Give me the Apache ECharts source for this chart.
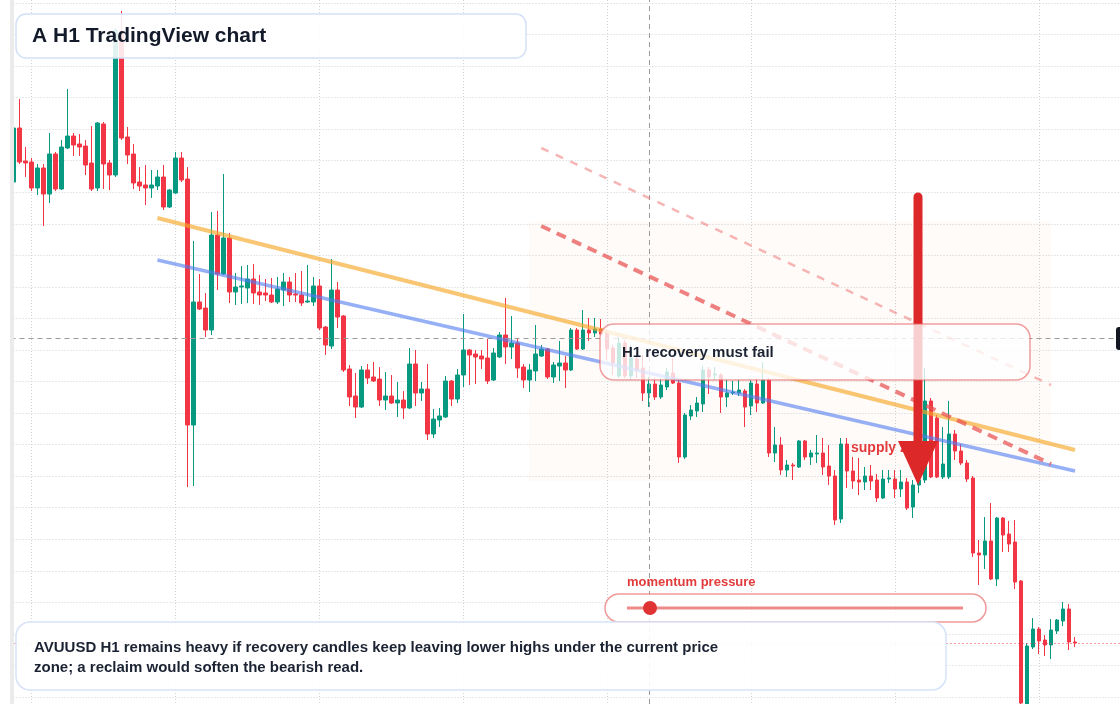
<!DOCTYPE html>
<html>
<head>
<meta charset="utf-8">
<title>AVUUSD H1</title>
<script src="https://cdn.jsdelivr.net/npm/echarts/dist/echarts.min.js"></script>
<style>
html, body { margin: 0; padding: 0; background: #ffffff; }
#container { width: 1120px; height: 704px; }
</style>
</head>
<body>
<div id="container"></div>
<script>
// hourly candles, price levels
var opens = [28.18, 28.72, 28.39, 28.38, 28.12, 28.32, 28.06, 28.46, 28.11, 28.52,
    28.64, 28.56, 28.54, 28.37, 28.12, 28.76, 28.37, 28.25, 29.69, 28.63,
    28.46, 28.18, 28.15, 28.12, 28.14, 28.23, 27.93, 28.07, 28.42, 28.21,
    25.75, 26.98, 26.92, 26.70, 27.65, 27.26, 27.62, 27.08, 27.13, 27.12,
    27.21, 27.08, 27.07, 27.05, 26.98, 27.10, 27.18, 27.06, 27.05, 26.98,
    26.98, 27.14, 26.73, 26.54, 27.10, 26.84, 26.31, 26.04, 25.93, 26.30,
    26.23, 26.21, 26.00, 26.04, 25.97, 26.00, 25.92, 26.36, 26.07, 26.11,
    25.66, 25.80, 25.83, 26.19, 26.01, 26.25, 26.50, 26.46, 26.44, 26.42,
    26.20, 26.43, 26.65, 26.53, 26.57, 26.33, 26.20, 26.29, 26.44, 26.51,
    26.23, 26.34, 26.37, 26.30, 26.70, 26.51, 26.70, 26.67, 26.71, 26.67,
    26.52, 26.24, 26.57, 26.24, 26.41, 26.32, 26.07, 26.16, 26.03, 26.13,
    26.27, 26.17, 25.43, 25.84, 25.89, 25.96, 26.30, 26.25, 26.25, 26.03,
    26.07, 26.07, 26.09, 25.94, 26.16, 25.97, 26.20, 25.47, 25.55, 25.30,
    25.35, 25.33, 25.59, 25.43, 25.46, 25.47, 25.34, 25.24, 24.81, 25.56,
    25.29, 25.20, 25.18, 25.24, 25.20, 25.02, 25.21, 25.21, 25.11, 25.18,
    24.93, 25.15, 25.20, 25.99, 25.82, 25.23, 25.23, 25.66, 25.49, 25.37,
    25.22, 24.47, 24.45, 24.59, 24.21, 24.82, 24.66, 24.58, 24.19, 22.88,
    23.53, 23.71, 23.60, 23.55, 23.69, 23.79, 23.91, 23.58];

var closes = [28.72, 28.38, 28.37, 28.12, 28.32, 28.06, 28.46, 28.11, 28.53, 28.64,
    28.55, 28.53, 28.35, 28.11, 28.77, 28.36, 28.25, 29.70, 28.62, 28.45,
    28.17, 28.14, 28.12, 28.15, 28.23, 27.93, 28.10, 28.42, 28.20, 25.75,
    26.98, 26.91, 26.70, 27.65, 27.26, 27.62, 27.08, 27.13, 27.14, 27.21,
    27.07, 27.05, 27.05, 26.98, 27.11, 27.18, 27.05, 27.05, 26.97, 26.99,
    27.14, 26.72, 26.55, 27.10, 26.83, 26.30, 26.03, 25.93, 26.30, 26.22,
    26.19, 26.00, 26.04, 25.97, 26.00, 25.92, 26.36, 26.07, 26.11, 25.66,
    25.81, 25.84, 26.19, 26.01, 26.25, 26.50, 26.45, 26.43, 26.41, 26.19,
    26.47, 26.65, 26.53, 26.57, 26.32, 26.20, 26.30, 26.46, 26.51, 26.23,
    26.35, 26.37, 26.30, 26.70, 26.51, 26.70, 26.67, 26.71, 26.66, 26.51,
    26.37, 26.57, 26.24, 26.42, 26.30, 26.07, 26.16, 26.03, 26.15, 26.28,
    26.17, 25.43, 25.85, 25.90, 25.97, 26.30, 26.23, 26.26, 26.03, 26.07,
    26.08, 26.10, 25.93, 26.17, 25.97, 26.20, 25.47, 25.55, 25.30, 25.35,
    25.34, 25.59, 25.43, 25.47, 25.47, 25.33, 25.24, 24.80, 25.56, 25.29,
    25.19, 25.18, 25.24, 25.19, 25.02, 25.21, 25.22, 25.11, 25.18, 24.92,
    25.15, 25.20, 25.99, 25.23, 25.23, 25.36, 25.66, 25.49, 25.37, 25.21,
    24.47, 24.45, 24.59, 24.21, 24.82, 24.65, 24.56, 24.18, 22.97, 23.54,
    23.71, 23.59, 23.55, 23.70, 23.80, 23.91, 23.58, 23.57];

var lows = [28.17, 28.36, 28.23, 28.09, 28.05, 27.74, 27.97, 28.09, 28.10, 28.51,
    28.44, 28.44, 28.25, 28.09, 28.09, 28.11, 28.10, 28.23, 28.60, 28.36,
    28.11, 28.09, 27.95, 28.02, 28.10, 27.90, 27.92, 28.06, 28.18, 25.13,
    25.14, 26.90, 26.63, 26.65, 27.10, 27.25, 26.97, 26.95, 26.96, 26.97,
    26.96, 26.95, 26.99, 26.97, 26.96, 26.94, 26.98, 26.98, 26.94, 26.97,
    26.94, 26.70, 26.45, 26.51, 26.72, 26.28, 25.94, 25.82, 25.92, 26.16,
    26.18, 25.94, 25.90, 25.96, 25.83, 25.81, 25.91, 25.94, 25.99, 25.60,
    25.62, 25.73, 25.82, 25.94, 25.97, 26.13, 26.15, 26.16, 26.31, 26.16,
    26.19, 26.42, 26.36, 26.41, 26.22, 26.12, 26.08, 26.19, 26.43, 26.21,
    26.17, 26.19, 26.12, 26.29, 26.50, 26.50, 26.59, 26.63, 26.65, 26.40,
    26.25, 26.22, 26.22, 26.20, 26.22, 25.99, 25.93, 26.00, 26.01, 26.10,
    26.16, 25.37, 25.41, 25.80, 25.83, 25.88, 26.06, 26.20, 25.87, 25.93,
    26.05, 26.04, 25.73, 25.85, 25.88, 25.96, 25.43, 25.38, 25.25, 25.23,
    25.20, 25.32, 25.40, 25.35, 25.37, 25.25, 25.15, 24.75, 24.77, 25.12,
    25.11, 25.05, 25.10, 25.10, 24.98, 25.01, 25.17, 25.02, 25.03, 24.90,
    24.82, 25.07, 25.17, 25.22, 25.22, 25.21, 25.21, 25.40, 25.35, 25.18,
    24.43, 24.15, 24.31, 24.20, 24.14, 24.48, 24.48, 24.11, 22.95, 22.85,
    23.51, 23.46, 23.44, 23.41, 23.66, 23.74, 23.50, 23.53];

var highs = [28.74, 29.01, 28.53, 28.42, 28.36, 28.36, 28.67, 28.48, 28.60, 29.11,
    28.67, 28.66, 28.60, 28.74, 28.78, 28.78, 28.40, 29.72, 29.89, 28.73,
    28.56, 28.33, 28.35, 28.30, 28.30, 28.35, 28.11, 28.48, 28.48, 28.33,
    27.59, 27.26, 27.07, 27.88, 27.89, 28.26, 27.67, 27.27, 27.34, 27.35,
    27.36, 27.25, 27.21, 27.22, 27.23, 27.27, 27.23, 27.27, 27.29, 27.35,
    27.23, 27.21, 26.74, 27.41, 27.18, 26.85, 26.35, 26.27, 26.34, 26.36,
    26.38, 26.33, 26.28, 26.25, 26.18, 26.09, 26.52, 26.50, 26.18, 26.36,
    25.91, 25.92, 26.24, 26.20, 26.31, 26.86, 26.51, 26.50, 26.50, 26.61,
    26.52, 26.68, 27.02, 26.84, 26.62, 26.36, 26.36, 26.75, 26.55, 26.52,
    26.38, 26.59, 26.44, 26.72, 26.72, 26.90, 26.82, 26.82, 26.81, 26.70,
    26.55, 26.63, 26.60, 26.55, 26.48, 26.45, 26.23, 26.22, 26.22, 26.32,
    26.42, 26.20, 25.87, 25.95, 26.03, 26.34, 26.33, 26.33, 26.27, 26.20,
    26.19, 26.20, 26.11, 26.20, 26.22, 26.38, 26.22, 25.73, 25.63, 25.40,
    25.37, 25.60, 25.60, 25.50, 25.65, 25.62, 25.55, 25.30, 25.62, 25.62,
    25.43, 25.42, 25.33, 25.35, 25.26, 25.30, 25.30, 25.30, 25.30, 25.22,
    25.20, 25.28, 26.32, 26.02, 25.85, 25.73, 25.99, 25.70, 25.56, 25.40,
    25.24, 24.60, 24.83, 24.97, 24.83, 24.83, 24.79, 24.80, 24.20, 23.57,
    23.82, 23.73, 23.65, 23.81, 23.81, 23.98, 23.96, 23.63];

// drawn levels: [candle index, price]
var upperTrend = [[24, 27.82], [177, 25.50]];
var lowerTrend = [[24, 27.40], [177, 25.29]];
var channelTop = [[88, 28.52], [173, 26.15]];
var channelMid = [[88, 27.74], [173, 25.36]];
var supplyZone = [[86, 27.78], [173, 25.19]];
var crossIndex = 106;
var crossPrice = 26.62;

var slots = 185;   // candles plus empty space on the right
var categories = [];
for (let i = 0; i < slots; i++) {
    let d = new Date(Date.UTC(2024, 4, 20, 0) + i * 3600 * 1000);
    categories.push(
        String(d.getUTCMonth() + 1).padStart(2, '0') + '-' +
        String(d.getUTCDate()).padStart(2, '0') + ' ' +
        String(d.getUTCHours()).padStart(2, '0') + ':00');
}

var candles = opens.map((o, i) => [o, closes[i], lows[i], highs[i]]);
var lastClose = closes[closes.length - 1];

var upColor = '#089981';
var downColor = '#f23645';
var gridDots = { color: '#cfd2d6', width: 1, type: [1, 2] };
var textFont = 'Liberation Sans, Arial, sans-serif';

var dom = document.getElementById('container');
var chart = echarts.init(dom, null, { renderer: 'canvas' });

function trend(pts, style) {
    return [
        { coord: pts[0], lineStyle: style },
        { coord: pts[1] }
    ];
}

var option = {
    animation: false,
    backgroundColor: '#ffffff',
    grid: [
        { left: 10.5, right: 0, top: 0, bottom: 0, outerBoundsMode: 'none' },
        { left: 10.5, right: 0, top: 2.9, bottom: 7, outerBoundsMode: 'none' },
        { left: 31.5, right: 0, top: 0, bottom: 0, outerBoundsMode: 'none' }
    ],
    xAxis: [
        {
            type: 'category', gridIndex: 0, data: categories, boundaryGap: true,
            axisLine: { show: false }, axisTick: { show: false },
            axisLabel: { show: false }, splitLine: { show: false }
        },
        {
            type: 'value', gridIndex: 1, min: 0, max: 1, show: false,
            splitLine: { show: false }
        },
        {
            type: 'value', gridIndex: 2, min: 0, max: 181.5, interval: 24,
            axisLine: { show: false }, axisTick: { show: false },
            axisLabel: { show: false },
            splitLine: { show: true, lineStyle: gridDots }
        }
    ],
    yAxis: [
        {
            type: 'value', gridIndex: 0, min: 22.96, max: 30, scale: true,
            axisLine: { show: false }, axisTick: { show: false },
            axisLabel: { show: false }, splitLine: { show: false }
        },
        {
            type: 'value', gridIndex: 1, min: 0, max: 22, interval: 1,
            axisLine: { show: false }, axisTick: { show: false },
            axisLabel: { show: false },
            splitLine: { show: true, lineStyle: gridDots }
        },
        {
            type: 'value', gridIndex: 2, min: 0, max: 1, show: false,
            splitLine: { show: false }
        }
    ],
    series: [
        {
            name: 'AVUUSD H1',
            type: 'candlestick',
            xAxisIndex: 0,
            yAxisIndex: 0,
            data: candles,
            barWidth: 4,
            silent: true,
            itemStyle: {
                color: upColor,
                color0: downColor,
                borderColor: upColor,
                borderColor0: downColor,
                borderWidth: 1
            },
            markArea: {
                silent: true,
                itemStyle: { color: 'rgba(236, 196, 160, 0.065)' },
                data: [[{ coord: supplyZone[0] }, { coord: supplyZone[1] }]]
            },
            markLine: {
                silent: true,
                symbol: ['none', 'none'],
                label: { show: false },
                emphasis: { disabled: true },
                data: [
                    { xAxis: crossIndex, lineStyle: { color: '#9a9a9a', width: 1, type: [5, 4] } },
                    { yAxis: crossPrice, lineStyle: { color: '#9a9a9a', width: 1, type: [5, 4] } },
                    { yAxis: lastClose, lineStyle: { color: downColor, width: 1, type: [1, 3] } },
                    trend(upperTrend, { color: 'rgba(246, 168, 40, 0.65)', width: 4, type: 'solid' }),
                    trend(lowerTrend, { color: 'rgba(80, 124, 240, 0.6)', width: 3.5, type: 'solid' }),
                    trend(channelMid, { color: 'rgba(232, 80, 80, 0.72)', width: 4, type: [10, 7] }),
                    trend(channelTop, { color: 'rgba(238, 110, 110, 0.5)', width: 2.5, type: [8, 8] })
                ]
            }
        }
    ],
    graphic: [
        // left edge strip
        { type: 'rect', z: 100, shape: { x: 10, y: 0, width: 4, height: 704 }, style: { fill: '#ebebeb' } },
        // price tag peeking out on the right
        { type: 'rect', z: 100, shape: { x: 1116, y: 327, width: 12, height: 23, r: 3 }, style: { fill: '#131722' } },
        // bearish arrow
        {
            type: 'text', z: 100, x: 851, y: 448,
            style: { text: 'supply zone', fill: '#e23b3b', font: 'bold 14px ' + textFont, verticalAlign: 'middle' }
        },
        {
            type: 'line', z: 101,
            shape: { x1: 918, y1: 197, x2: 918, y2: 446 },
            style: { stroke: '#dc2828', lineWidth: 9, lineCap: 'round' }
        },
        {
            type: 'polygon', z: 101,
            shape: { points: [[898, 441], [938, 441], [918, 485]] },
            style: { fill: '#dc2828' }
        },
        // callout over the recovery
        {
            type: 'rect', z: 110,
            shape: { x: 600, y: 324, width: 430, height: 56, r: 14 },
            style: { fill: 'rgba(255,255,255,0.78)', stroke: 'rgba(228,96,96,0.6)', lineWidth: 1.5 }
        },
        {
            type: 'text', z: 111, x: 622, y: 353,
            style: { text: 'H1 recovery must fail', fill: '#1b2333', font: 'bold 15px ' + textFont, verticalAlign: 'middle' }
        },
        // title
        {
            type: 'rect', z: 110,
            shape: { x: 16, y: 14, width: 510, height: 44, r: 10 },
            style: { fill: 'rgba(255,255,255,0.88)', stroke: '#d3e1f6', lineWidth: 1.5 }
        },
        {
            type: 'text', z: 111, x: 32, y: 36,
            style: { text: 'A H1 TradingView chart', fill: '#131a2a', font: 'bold 21px ' + textFont, verticalAlign: 'middle' }
        },
        // momentum gauge
        {
            type: 'text', z: 111, x: 627, y: 582,
            style: { text: 'momentum pressure', fill: '#e23b3b', font: 'bold 13px ' + textFont, verticalAlign: 'middle' }
        },
        {
            type: 'rect', z: 110,
            shape: { x: 605, y: 594, width: 381, height: 28, r: 14 },
            style: { fill: 'rgba(255,255,255,0.8)', stroke: 'rgba(234,110,110,0.7)', lineWidth: 1.5 }
        },
        {
            type: 'line', z: 111,
            shape: { x1: 627, y1: 608, x2: 963, y2: 608 },
            style: { stroke: 'rgba(230,88,88,0.7)', lineWidth: 3 }
        },
        {
            type: 'circle', z: 112,
            shape: { cx: 650, cy: 608, r: 7 },
            style: { fill: '#e03434' }
        },
        // note at the bottom
        {
            type: 'rect', z: 110,
            shape: { x: 16, y: 622, width: 930, height: 68, r: 14 },
            style: { fill: 'rgba(255,255,255,0.9)', stroke: '#d7e3f8', lineWidth: 1.5 }
        },
        {
            type: 'text', z: 111, x: 34, y: 638,
            style: {
                text: 'AVUUSD H1 remains heavy if recovery candles keep leaving lower highs under the current price\nzone; a reclaim would soften the bearish read.',
                fill: '#1b2333', font: 'bold 15px ' + textFont, lineHeight: 20, verticalAlign: 'top'
            }
        }
    ]
};

option && chart.setOption(option, true);
window.addEventListener('resize', chart.resize);
</script>
</body>
</html>
